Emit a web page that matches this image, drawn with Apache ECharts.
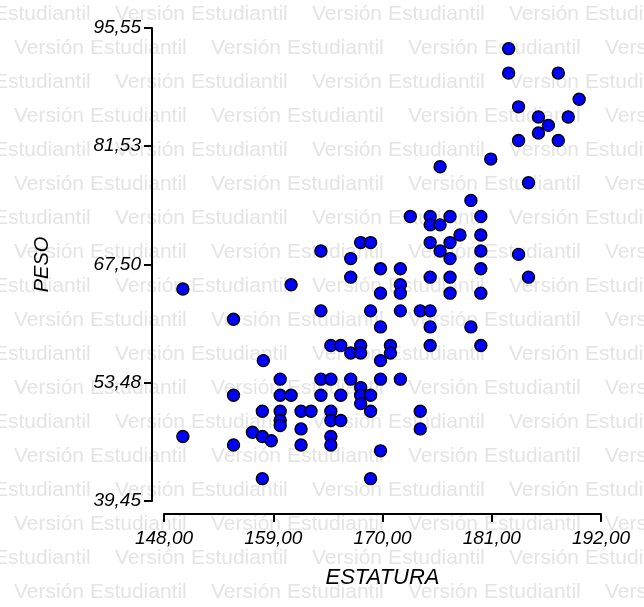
<!DOCTYPE html>
<html>
<head>
<meta charset="utf-8">
<script src="https://cdn.jsdelivr.net/npm/echarts@6/dist/echarts.min.js"></script>
<style>
  html, body { margin: 0; padding: 0; background: #fff; }
  #grafico { width: 644px; height: 607px; }
</style>
</head>
<body>
<div id="grafico"></div>
<script>
// Datos: estatura (cm) y peso (kg)
const estatura = [
  182.7, 182.7, 187.7, 189.8, 183.7, 185.7, 188.7, 186.7, 185.7, 183.7,
  187.7, 180.9, 175.8, 184.7, 178.9, 172.8, 174.8, 176.8, 179.9, 174.8,
  175.8, 177.8, 179.9, 174.8, 176.8, 167.8, 168.8, 175.8, 179.9, 163.8,
  183.7, 166.8, 176.8, 169.8, 171.8, 179.9, 166.8, 174.8, 176.8, 184.7,
  171.8, 160.8, 149.9, 169.8, 171.8, 176.8, 179.9, 163.8, 168.8, 171.8,
  173.8, 174.8, 155.0, 169.8, 174.8, 178.9, 164.8, 165.8, 167.8, 170.8,
  174.8, 179.9, 166.8, 167.8, 170.8, 158.0, 169.8, 159.7, 163.8, 164.8,
  166.8, 169.8, 171.8, 167.8, 155.0, 159.7, 160.8, 163.8, 165.8, 167.8,
  168.8, 167.8, 157.9, 159.7, 161.8, 162.8, 164.8, 168.8, 173.8, 159.7,
  159.7, 164.8, 165.8, 161.8, 173.8, 156.9, 157.9, 158.8, 149.9, 164.8,
  155.0, 161.8, 164.8, 169.8, 157.9, 168.8
];
const peso = [
  93.1, 90.2, 90.2, 87.1, 86.2, 85.0, 85.0, 84.0, 83.1, 82.2,
  82.2, 80.0, 79.1, 77.2, 75.1, 73.2, 73.2, 73.2, 73.2, 72.2,
  72.2, 71.0, 71.0, 70.1, 70.1, 70.1, 70.1, 69.1, 69.1, 69.1,
  68.7, 68.2, 68.2, 67.0, 67.0, 67.0, 66.0, 66.0, 66.0, 66.0,
  65.1, 65.1, 64.6, 64.1, 64.1, 64.1, 64.1, 62.0, 62.0, 62.0,
  62.0, 62.0, 61.0, 60.1, 60.1, 60.1, 57.9, 57.9, 57.9, 57.9,
  57.9, 57.9, 57.0, 57.0, 57.0, 56.1, 56.1, 53.9, 53.9, 53.9,
  53.9, 53.9, 53.9, 52.9, 52.0, 52.0, 52.0, 52.0, 52.0, 52.0,
  52.0, 51.0, 50.1, 50.1, 50.1, 50.1, 50.1, 50.1, 50.1, 49.0,
  48.4, 49.0, 49.0, 48.0, 48.0, 47.6, 47.1, 46.6, 47.1, 47.1,
  46.1, 46.1, 46.1, 45.4, 42.1, 42.1
];
const xTicks = [148, 159, 170, 181, 192];
const yTicks = [39.45, 53.48, 67.50, 81.53, 95.55];

var chart = echarts.init(document.getElementById('grafico'));

// Marca de agua "Versión Estudiantil"
const marca = [];
for (let r = 0; r < 18; r++) {
  const y = 14.5 + r * 34;
  let x = (r % 2 === 0) ? 115 - 197 : 14;
  for (; x < 644; x += 197) {
    marca.push({
      type: 'text', x: x, y: y, z: -1, silent: true,
      style: {
        text: 'Versión Estudiantil', fill: '#e4e4e4',
        fontSize: 21, fontFamily: 'Liberation Sans', verticalAlign: 'middle'
      }
    });
  }
}

const coma = v => v.toFixed(2).replace('.', ',');
const fuenteEje = { color: '#000', fontStyle: 'italic', fontFamily: 'Liberation Sans', fontSize: 19 };

var option = {
  animation: false,
  graphic: { elements: marca },
  grid: { left: 164, right: 43, top: 28, bottom: 106 },
  xAxis: {
    type: 'value', min: 148, max: 192, offset: 13,
    name: 'ESTATURA', nameLocation: 'middle', nameGap: 53,
    nameTextStyle: { color: '#000', fontStyle: 'italic', fontFamily: 'Liberation Sans', fontSize: 22 },
    axisLine: { show: true, onZero: false, lineStyle: { color: '#000', width: 2 } },
    axisTick: { show: true, length: 8, customValues: xTicks, lineStyle: { color: '#000', width: 2 } },
    axisLabel: Object.assign({ margin: 15, customValues: xTicks, formatter: coma }, fuenteEje),
    splitLine: { show: false }
  },
  yAxis: {
    type: 'value', min: 39.45, max: 95.55, offset: 12,
    name: 'PESO', nameLocation: 'middle', nameGap: 100,
    nameTextStyle: { color: '#000', fontStyle: 'italic', fontFamily: 'Liberation Sans', fontSize: 20 },
    axisLine: { show: true, onZero: false, lineStyle: { color: '#000', width: 2 } },
    axisTick: { show: true, length: 8, customValues: yTicks, lineStyle: { color: '#000', width: 2 } },
    axisLabel: Object.assign({ margin: 11, customValues: yTicks, formatter: coma }, fuenteEje),
    splitLine: { show: false }
  },
  series: [{
    type: 'scatter',
    symbol: 'circle',
    symbolSize: 12,
    itemStyle: { color: '#0000ff', borderColor: '#000', borderWidth: 1.4, opacity: 1 },
    data: estatura.map((e, i) => [e, peso[i]])
  }]
};

chart.setOption(option);
</script>
</body>
</html>
